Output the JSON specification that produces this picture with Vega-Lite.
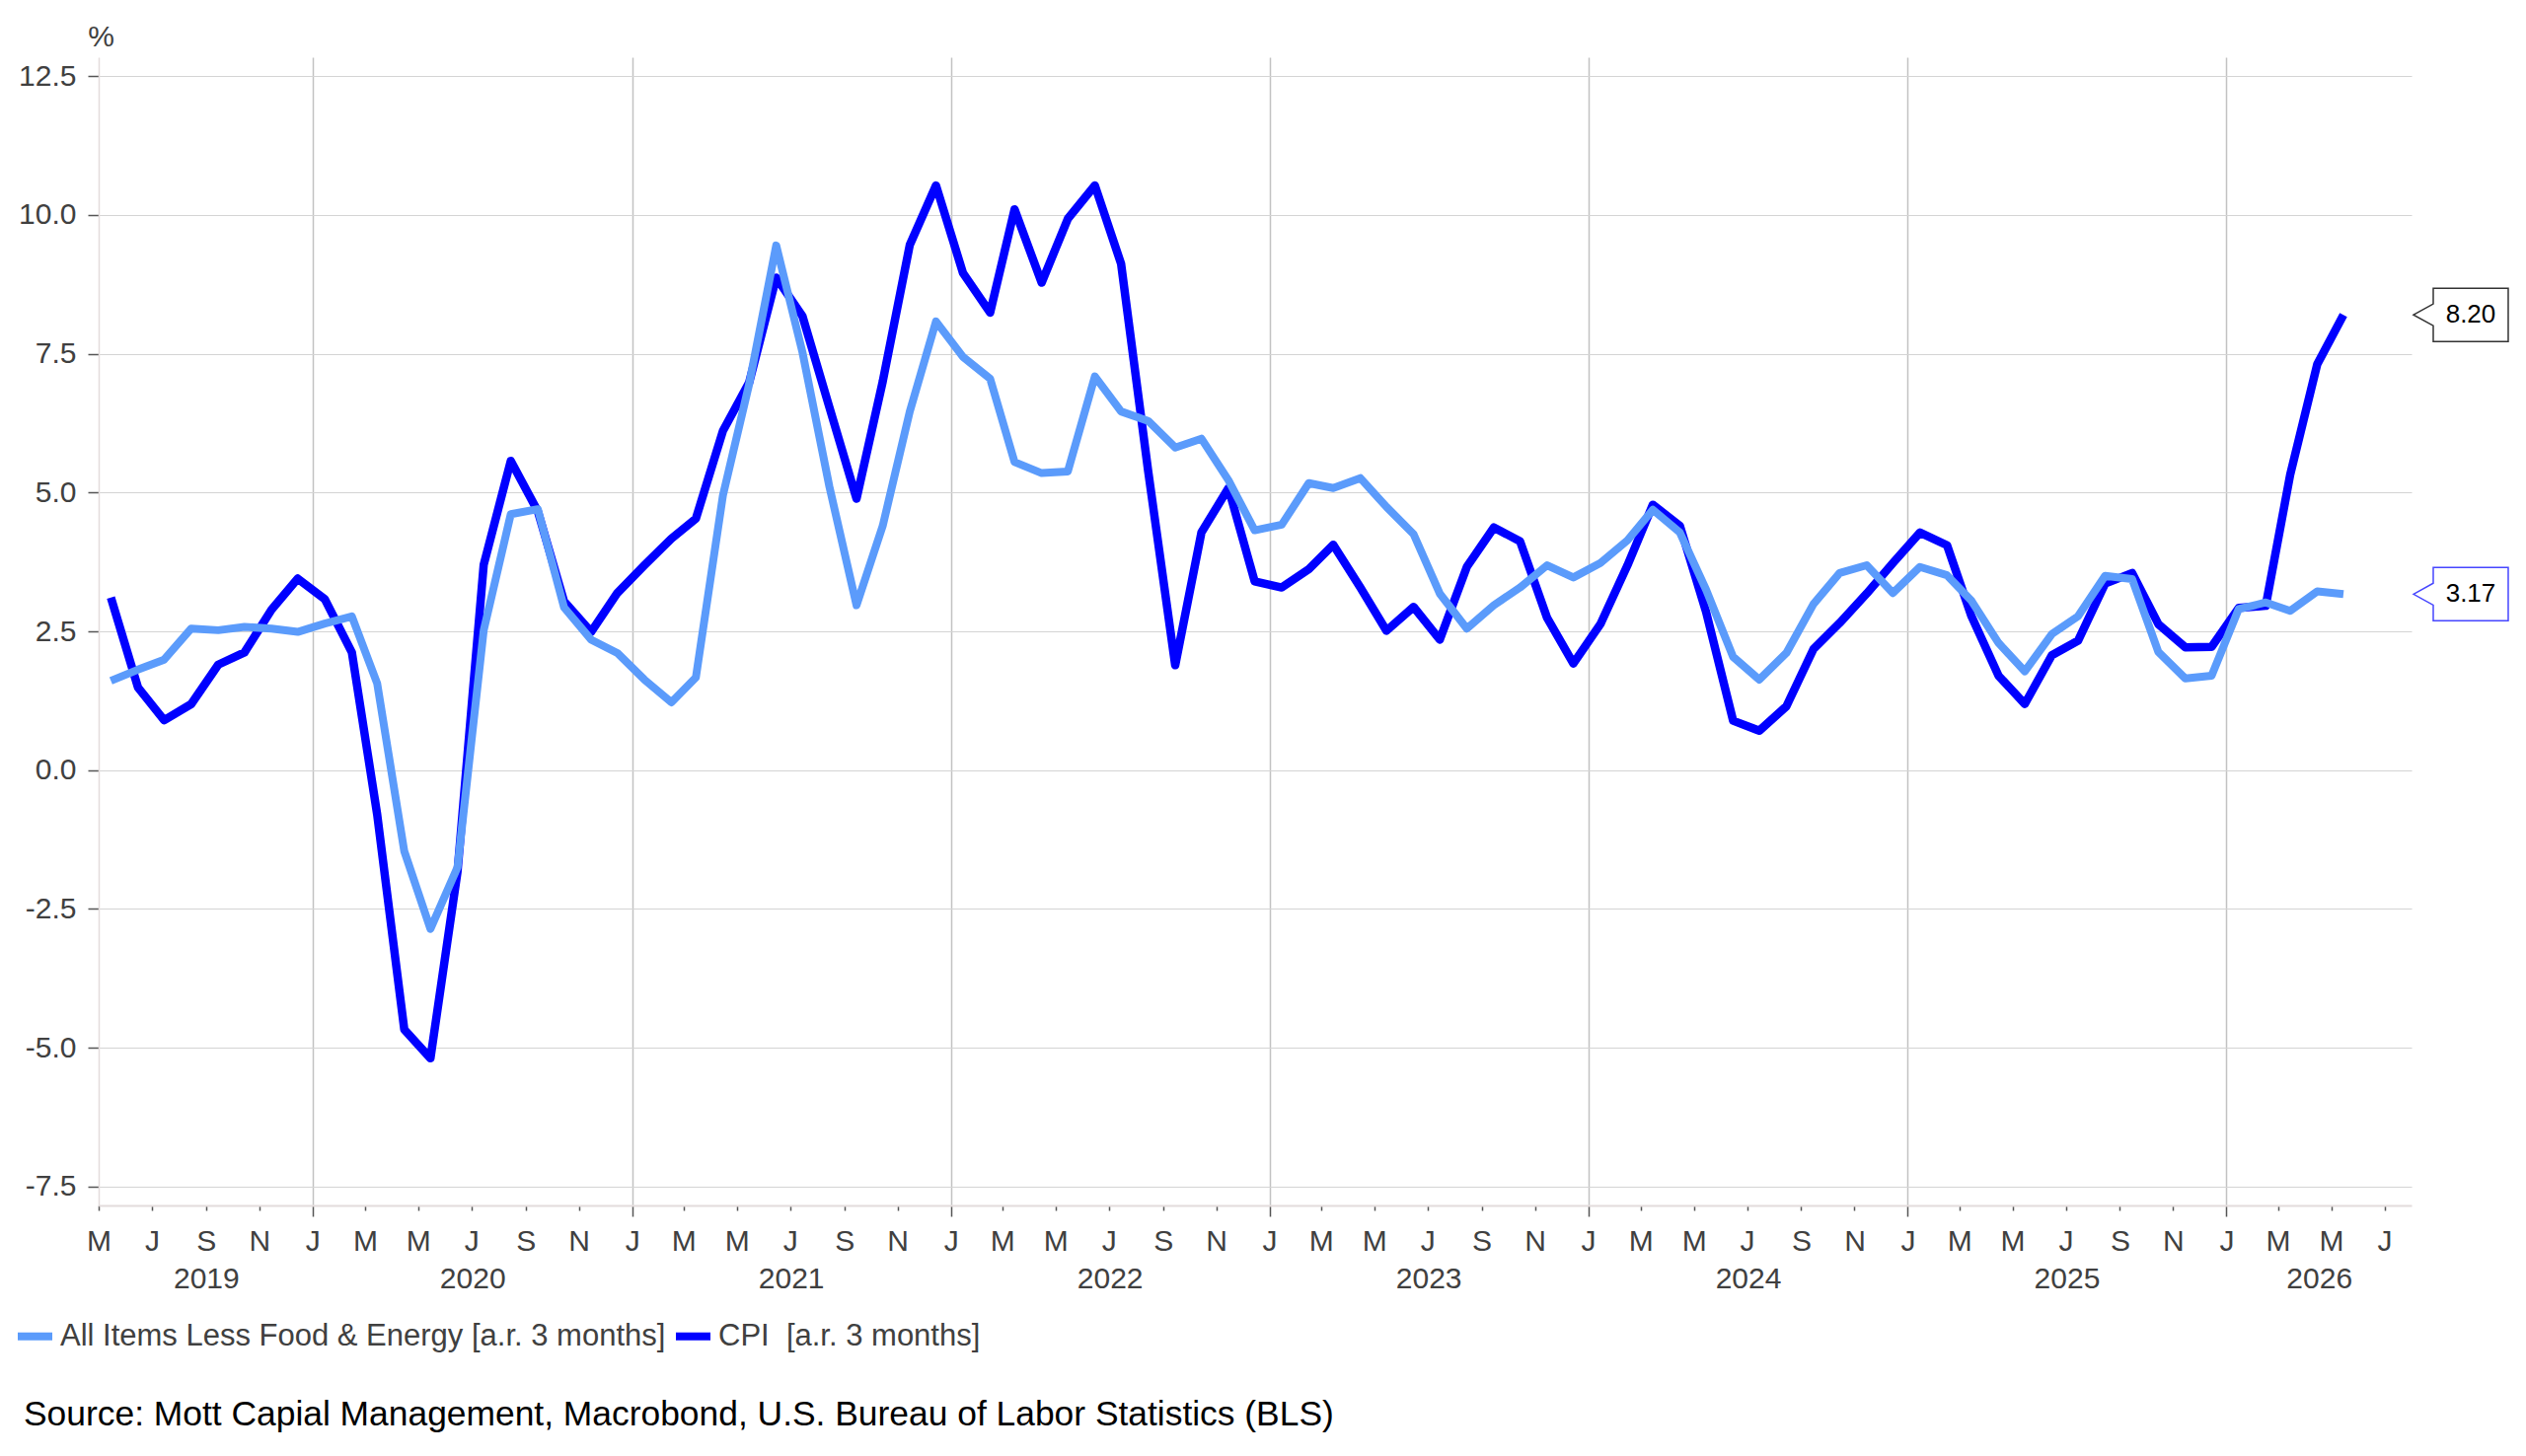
{
  "$schema": "https://vega.github.io/schema/vega-lite/v6.json",
  "width": 2344,
  "height": 1164,
  "autosize": "none",
  "padding": {"left": 100, "top": 58, "right": 116, "bottom": 254},
  "background": "white",
  "title": {
    "text": "Source: Mott Capial Management, Macrobond, U.S. Bureau of Labor Statistics (BLS)",
    "orient": "bottom",
    "anchor": "start",
    "frame": "group",
    "fontSize": 35.4,
    "fontWeight": "normal",
    "color": "#000000",
    "dx": -76,
    "offset": 46
  },
  "data": {
    "values": [
      {"d": "2019-05-15", "cpi": 3.11, "core": 1.61},
      {"d": "2019-06-15", "cpi": 1.49, "core": 1.81},
      {"d": "2019-07-15", "cpi": 0.90, "core": 1.99},
      {"d": "2019-08-15", "cpi": 1.19, "core": 2.55},
      {"d": "2019-09-15", "cpi": 1.90, "core": 2.52},
      {"d": "2019-10-15", "cpi": 2.12, "core": 2.58},
      {"d": "2019-11-15", "cpi": 2.89, "core": 2.55},
      {"d": "2019-12-15", "cpi": 3.45, "core": 2.49},
      {"d": "2020-01-15", "cpi": 3.08, "core": 2.64},
      {"d": "2020-02-15", "cpi": 2.12, "core": 2.77},
      {"d": "2020-03-15", "cpi": -0.80, "core": 1.56},
      {"d": "2020-04-15", "cpi": -4.67, "core": -1.46},
      {"d": "2020-05-15", "cpi": -5.19, "core": -2.86},
      {"d": "2020-06-15", "cpi": -1.83, "core": -1.75},
      {"d": "2020-07-15", "cpi": 3.70, "core": 2.52},
      {"d": "2020-08-15", "cpi": 5.57, "core": 4.61},
      {"d": "2020-09-15", "cpi": 4.66, "core": 4.70},
      {"d": "2020-10-15", "cpi": 3.04, "core": 2.93},
      {"d": "2020-11-15", "cpi": 2.49, "core": 2.35},
      {"d": "2020-12-15", "cpi": 3.19, "core": 2.11},
      {"d": "2021-01-15", "cpi": 3.69, "core": 1.63},
      {"d": "2021-02-15", "cpi": 4.17, "core": 1.22},
      {"d": "2021-03-15", "cpi": 4.53, "core": 1.67},
      {"d": "2021-04-15", "cpi": 6.11, "core": 4.95},
      {"d": "2021-05-15", "cpi": 6.98, "core": 6.95},
      {"d": "2021-06-15", "cpi": 8.87, "core": 9.45},
      {"d": "2021-07-15", "cpi": 8.18, "core": 7.53},
      {"d": "2021-08-15", "cpi": 6.53, "core": 5.10},
      {"d": "2021-09-15", "cpi": 4.89, "core": 2.97},
      {"d": "2021-10-15", "cpi": 7.00, "core": 4.40},
      {"d": "2021-11-15", "cpi": 9.46, "core": 6.46},
      {"d": "2021-12-15", "cpi": 10.53, "core": 8.08},
      {"d": "2022-01-15", "cpi": 8.95, "core": 7.44},
      {"d": "2022-02-15", "cpi": 8.24, "core": 7.05},
      {"d": "2022-03-15", "cpi": 10.10, "core": 5.55},
      {"d": "2022-04-15", "cpi": 8.78, "core": 5.35},
      {"d": "2022-05-15", "cpi": 9.93, "core": 5.38},
      {"d": "2022-06-15", "cpi": 10.53, "core": 7.09},
      {"d": "2022-07-15", "cpi": 9.12, "core": 6.46},
      {"d": "2022-08-15", "cpi": 5.39, "core": 6.29},
      {"d": "2022-09-15", "cpi": 1.89, "core": 5.81},
      {"d": "2022-10-15", "cpi": 4.28, "core": 5.97},
      {"d": "2022-11-15", "cpi": 5.08, "core": 5.22},
      {"d": "2022-12-15", "cpi": 3.40, "core": 4.32},
      {"d": "2023-01-15", "cpi": 3.29, "core": 4.42},
      {"d": "2023-02-15", "cpi": 3.62, "core": 5.17},
      {"d": "2023-03-15", "cpi": 4.06, "core": 5.08},
      {"d": "2023-04-15", "cpi": 3.29, "core": 5.26},
      {"d": "2023-05-15", "cpi": 2.51, "core": 4.74},
      {"d": "2023-06-15", "cpi": 2.94, "core": 4.25},
      {"d": "2023-07-15", "cpi": 2.35, "core": 3.18},
      {"d": "2023-08-15", "cpi": 3.66, "core": 2.55},
      {"d": "2023-09-15", "cpi": 4.37, "core": 2.97},
      {"d": "2023-10-15", "cpi": 4.12, "core": 3.29},
      {"d": "2023-11-15", "cpi": 2.74, "core": 3.69},
      {"d": "2023-12-15", "cpi": 1.92, "core": 3.47},
      {"d": "2024-01-15", "cpi": 2.63, "core": 3.73},
      {"d": "2024-02-15", "cpi": 3.69, "core": 4.14},
      {"d": "2024-03-15", "cpi": 4.78, "core": 4.69},
      {"d": "2024-04-15", "cpi": 4.40, "core": 4.28},
      {"d": "2024-05-15", "cpi": 2.85, "core": 3.25},
      {"d": "2024-06-15", "cpi": 0.89, "core": 2.04},
      {"d": "2024-07-15", "cpi": 0.71, "core": 1.63},
      {"d": "2024-08-15", "cpi": 1.15, "core": 2.11},
      {"d": "2024-09-15", "cpi": 2.18, "core": 2.99},
      {"d": "2024-10-15", "cpi": 2.65, "core": 3.55},
      {"d": "2024-11-15", "cpi": 3.18, "core": 3.69},
      {"d": "2024-12-15", "cpi": 3.73, "core": 3.19},
      {"d": "2025-01-15", "cpi": 4.28, "core": 3.66},
      {"d": "2025-02-15", "cpi": 4.05, "core": 3.51},
      {"d": "2025-03-15", "cpi": 2.77, "core": 3.05},
      {"d": "2025-04-15", "cpi": 1.70, "core": 2.29},
      {"d": "2025-05-15", "cpi": 1.19, "core": 1.78},
      {"d": "2025-06-15", "cpi": 2.07, "core": 2.45},
      {"d": "2025-07-15", "cpi": 2.33, "core": 2.77},
      {"d": "2025-08-15", "cpi": 3.36, "core": 3.50},
      {"d": "2025-09-15", "cpi": 3.55, "core": 3.44},
      {"d": "2025-10-15", "cpi": 2.63, "core": 2.13},
      {"d": "2025-11-15", "cpi": 2.21, "core": 1.65},
      {"d": "2025-12-15", "cpi": 2.22, "core": 1.70},
      {"d": "2026-01-15", "cpi": 2.92, "core": 2.90},
      {"d": "2026-02-15", "cpi": 2.96, "core": 3.02},
      {"d": "2026-03-15", "cpi": 5.32, "core": 2.87},
      {"d": "2026-04-15", "cpi": 7.31, "core": 3.22},
      {"d": "2026-05-15", "cpi": 8.20, "core": 3.17}
    ]
  },
  "layer": [
    {
      "mark": {"type": "line", "strokeWidth": 8.5, "strokeJoin": "round", "strokeCap": "butt"},
      "encoding": {
        "x": {
          "field": "d",
          "type": "temporal",
          "scale": {"type": "utc", "domain": [{"year": 2019, "month": 5, "date": 1, "utc": true}, {"year": 2026, "month": 8, "date": 1, "utc": true}]},
          "axis": {
            "orient": "bottom",
            "title": null,
            "tickCount": {"interval": "month", "step": 2},
            "labelExpr": "substring(utcFormat(datum.value, '%b'), 0, 1)",
            "labelFontSize": 30,
            "labelColor": "#404040",
            "labelPadding": {"condition": {"test": "utcmonth(datum.value) == 0", "value": 10}, "value": 16},
            "labelOverlap": false,
            "labelFlush": false,
            "labelBound": false,
            "tickSize": {"condition": {"test": "utcmonth(datum.value) == 0", "value": 11}, "value": 5},
            "tickColor": "#555555",
            "tickWidth": 1.5,
            "grid": true,
            "gridColor": "#c2c2c2",
            "gridWidth": 1.5,
            "gridOpacity": {"condition": {"test": "utcmonth(datum.value) == 0", "value": 1}, "value": 0},
            "domainColor": "#e3dcdc",
            "domainWidth": 2
          }
        },
        "y": {
          "field": "cpi",
          "type": "quantitative",
          "scale": {"domain": [-7.84, 12.84], "nice": false, "zero": false},
          "axis": {
            "values": [-7.5, -5, -2.5, 0, 2.5, 5, 7.5, 10, 12.5],
            "format": ".1f",
            "labelExpr": "replace(datum.label, '−', '-')",
            "title": "%",
            "titleAngle": 0,
            "titleX": 2,
            "titleY": -21,
            "titleAlign": "center",
            "titleBaseline": "middle",
            "titleFontSize": 30,
            "titleFontWeight": "normal",
            "titleColor": "#404040",
            "labelFontSize": 30,
            "labelColor": "#404040",
            "labelPadding": 12,
            "tickSize": 11,
            "tickColor": "#555555",
            "tickWidth": 1.5,
            "domainColor": "#e3dcdc",
            "domainWidth": 1.5,
            "gridColor": "#d4d4d4",
            "gridWidth": 1.2
          }
        },
        "color": {
          "datum": "CPI\u00a0 [a.r. 3 months]",
          "scale": {
            "domain": ["All Items Less Food & Energy [a.r. 3 months]", "CPI\u00a0 [a.r. 3 months]"],
            "range": ["#5b9bfb", "#0000ff"]
          },
          "legend": {
            "orient": "none",
            "legendX": -86,
            "legendY": 1275,
            "direction": "horizontal",
            "title": null,
            "labelFontSize": 31,
            "labelColor": "#404040",
            "labelLimit": 2000,
            "symbolType": "stroke",
            "symbolStrokeWidth": 8,
            "symbolSize": 1225,
            "labelOffset": 4,
            "columnPadding": -6
          }
        }
      }
    },
    {
      "mark": {"type": "line", "strokeWidth": 8, "strokeJoin": "round", "strokeCap": "butt"},
      "encoding": {
        "x": {"field": "d", "type": "temporal", "scale": {"type": "utc"}, "axis": null},
        "y": {"field": "core", "type": "quantitative"},
        "color": {"datum": "All Items Less Food & Energy [a.r. 3 months]"}
      }
    },
    {
      "transform": [{"filter": "utcyear(datum.d) == 2026 && utcmonth(datum.d) == 4"}],
      "mark": {
        "type": "point",
        "shape": "M -1 0 L -0.583 -0.23 L -0.583 -0.5625 L 1 -0.5625 L 1 0.5625 L -0.583 0.5625 L -0.583 0.23 Z",
        "size": 9216,
        "filled": true,
        "fill": "white",
        "stroke": "#333333",
        "strokeWidth": 1.5,
        "opacity": 1,
        "xOffset": 119
      },
      "encoding": {
        "x": {
          "field": "d",
          "type": "temporal",
          "scale": {"type": "utc"},
          "axis": {
            "orient": "bottom",
            "title": null,
            "values": [
              {"year": 2019, "month": 9, "date": 1, "utc": true},
              {"year": 2020, "month": 7, "date": 2, "utc": true},
              {"year": 2021, "month": 7, "date": 2, "utc": true},
              {"year": 2022, "month": 7, "date": 2, "utc": true},
              {"year": 2023, "month": 7, "date": 2, "utc": true},
              {"year": 2024, "month": 7, "date": 2, "utc": true},
              {"year": 2025, "month": 7, "date": 2, "utc": true},
              {"year": 2026, "month": 4, "date": 17, "utc": true}
            ],
            "labelExpr": "utcFormat(datum.value, '%Y')",
            "ticks": false,
            "domain": false,
            "grid": false,
            "labelPadding": 59,
            "labelFontSize": 30,
            "labelColor": "#404040",
            "labelOverlap": false,
            "labelFlush": false,
            "labelBound": false
          }
        },
        "y": {"field": "cpi", "type": "quantitative"}
      }
    },
    {
      "transform": [{"filter": "utcyear(datum.d) == 2026 && utcmonth(datum.d) == 4"}],
      "mark": {
        "type": "point",
        "shape": "M -1 0 L -0.583 -0.23 L -0.583 -0.5625 L 1 -0.5625 L 1 0.5625 L -0.583 0.5625 L -0.583 0.23 Z",
        "size": 9216,
        "filled": true,
        "fill": "white",
        "stroke": "#4646ff",
        "strokeWidth": 1.5,
        "opacity": 1,
        "xOffset": 119
      },
      "encoding": {
        "x": {"field": "d", "type": "temporal", "scale": {"type": "utc"}, "axis": null},
        "y": {"field": "core", "type": "quantitative"}
      }
    },
    {
      "transform": [{"filter": "utcyear(datum.d) == 2026 && utcmonth(datum.d) == 4"}],
      "mark": {"type": "text", "dx": 129, "fontSize": 26, "color": "#000000", "align": "center", "baseline": "middle"},
      "encoding": {
        "x": {"field": "d", "type": "temporal", "scale": {"type": "utc"}, "axis": null},
        "y": {"field": "cpi", "type": "quantitative"},
        "text": {"field": "cpi", "type": "quantitative", "format": ".2f"}
      }
    },
    {
      "transform": [{"filter": "utcyear(datum.d) == 2026 && utcmonth(datum.d) == 4"}],
      "mark": {"type": "text", "dx": 129, "fontSize": 26, "color": "#000000", "align": "center", "baseline": "middle"},
      "encoding": {
        "x": {"field": "d", "type": "temporal", "scale": {"type": "utc"}, "axis": null},
        "y": {"field": "core", "type": "quantitative"},
        "text": {"field": "core", "type": "quantitative", "format": ".2f"}
      }
    }
  ],
  "resolve": {"axis": {"x": "independent"}},
  "config": {
    "view": {"stroke": null},
    "font": "Liberation Sans"
  }
}
